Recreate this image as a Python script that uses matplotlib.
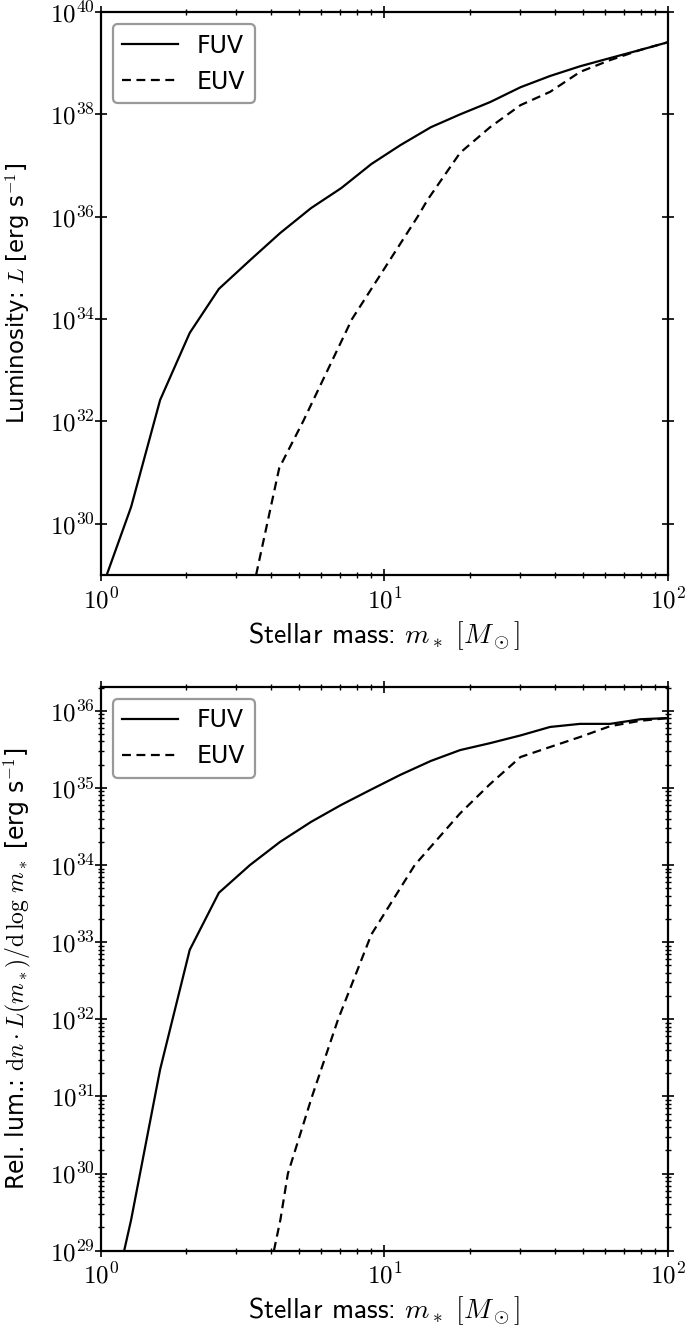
import matplotlib
matplotlib.use("Agg")
import matplotlib.pyplot as plt
from matplotlib.ticker import LogLocator, NullLocator, FuncFormatter
import numpy as np

plt.rcParams["mathtext.fontset"] = "cm"
plt.rcParams["font.family"] = ["DejaVu Sans"]

# top panel: luminosity per star
mass_fuv = [1.05, 1.28, 1.62, 2.06, 2.61, 3.36, 4.29, 5.52, 7.05, 9.0, 11.4,
            14.6, 18.5, 23.6, 30.2, 38.4, 49.0, 62.5, 80.0, 100.0]
log_lum_fuv = [29.0, 30.33, 32.42, 33.73, 34.59, 35.15, 35.68, 36.17, 36.56,
               37.03, 37.4, 37.75, 38.0, 38.24, 38.53, 38.75, 38.94, 39.1,
               39.26, 39.41]
mass_euv = [3.53, 4.26, 5.17, 7.69, 13.1, 14.2, 18.5, 23.6, 30.2, 38.4, 49.0,
            62.5, 80.0, 100.0]
log_lum_euv = [29.0, 31.09, 32.0, 34.0, 36.0, 36.33, 37.25, 37.75, 38.18,
               38.44, 38.83, 39.06, 39.26, 39.41]

# bottom panel: IMF-weighted luminosity
mass_rel_fuv = [1.21, 1.28, 1.62, 2.06, 2.61, 3.36, 4.29, 5.52, 7.05, 9.0,
                11.4, 14.6, 18.5, 23.6, 30.2, 38.4, 49.0, 62.5, 80.0, 100.0]
log_rel_fuv = [29.0, 29.4, 31.35, 32.9, 33.64, 34.0, 34.3, 34.56, 34.78,
               34.98, 35.17, 35.35, 35.49, 35.58, 35.68, 35.79, 35.83, 35.83,
               35.89, 35.905]
mass_rel_euv = [4.08, 4.3, 4.57, 5.56, 6.87, 9.0, 12.8, 18.5, 23.6, 30.2,
                38.4, 49.0, 62.5, 80.0, 100.0]
log_rel_euv = [29.0, 29.4, 30.0, 31.0, 32.0, 33.1, 34.0, 34.67, 35.05, 35.4,
               35.53, 35.66, 35.8, 35.87, 35.905]

W, H = 685, 1327
fig = plt.figure(figsize=(W / 100, H / 100), dpi=100)
ax_top = fig.add_axes([100.7 / W, 1 - 575 / H, 567.3 / W, 563 / H])
ax_bot = fig.add_axes([100.7 / W, 1 - 1250.7 / H, 567.3 / W, 564 / H])

pow_fmt = FuncFormatter(lambda v, p: r"$10^{%d}$" % round(np.log10(v)))


def _style(ax):
    for sp in ax.spines.values():
        sp.set_linewidth(1.6)
    ax.tick_params(which="both", direction="inout", top=True, right=True,
                   labelsize=18)
    ax.tick_params(axis="x", which="both", pad=5)
    ax.tick_params(axis="y", which="both", pad=0)
    ax.tick_params(which="major", length=8, width=1.2)
    ax.tick_params(which="minor", length=5, width=1.0)
    ax.set_xscale("log")
    ax.set_yscale("log")
    ax.set_xlim(1, 100)
    ax.xaxis.set_major_formatter(pow_fmt)
    ax.yaxis.set_major_formatter(pow_fmt)
    ax.set_xlabel(r"Stellar mass: $m_*\ [M_\odot]$", fontsize=20,
                  family="cmss10", labelpad=4)


for ax, mf, lf, me, le in [
    (ax_top, mass_fuv, log_lum_fuv, mass_euv, log_lum_euv),
    (ax_bot, mass_rel_fuv, log_rel_fuv, mass_rel_euv, log_rel_euv),
]:
    _style(ax)
    ax.plot(mf, 10 ** np.array(lf), color="black", lw=1.6, ls="-", label="FUV")
    ax.plot(me, 10 ** np.array(le), color="black", lw=1.6, ls="--",
            dashes=(4, 2.5), label="EUV")
    leg = ax.legend(loc="upper left", fontsize=17, handlelength=2.35,
                    fancybox=True, framealpha=1, borderaxespad=0.52,
                    labelspacing=0.5)
    leg.get_frame().set_edgecolor("#999999")
    leg.get_frame().set_linewidth(1.6)

ax_top.set_ylim(1e29, 1e40)
ax_top.yaxis.set_major_locator(LogLocator(base=100.0))
ax_top.yaxis.set_minor_locator(NullLocator())
ax_top.set_ylabel(r"Luminosity: $L$ [erg s$^{-1}$]", fontsize=16.5)
ax_top.yaxis.set_label_coords(-0.119, 0.5)

ax_bot.set_ylim(1e29, 2.05e36)
ax_bot.yaxis.set_major_locator(LogLocator(base=10.0))
ax_bot.yaxis.set_minor_locator(LogLocator(base=10.0, subs=np.arange(2, 10), numticks=30))
ax_bot.set_ylabel(r"Rel. lum.: $\mathrm{d}n \cdot L(m_*)/\mathrm{d}\,\log\, m_*$ [erg s$^{-1}$]",
                  fontsize=17)
ax_bot.yaxis.set_label_coords(-0.119, 0.5)

fig.savefig("out.png", dpi=100)
